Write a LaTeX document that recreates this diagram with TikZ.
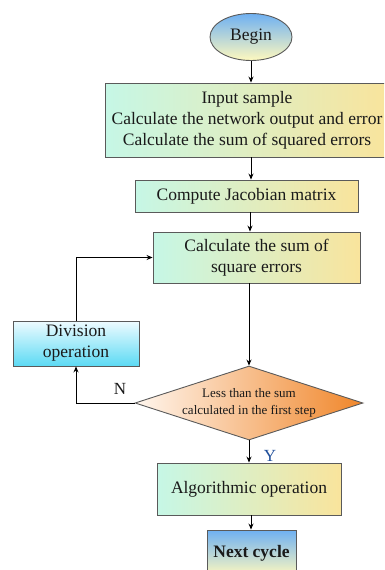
\documentclass[tikz,border=0pt]{standalone}
\usepackage{fontspec}
\setmainfont{Liberation Serif}
\usetikzlibrary{shapes.geometric,arrows.meta}
\definecolor{mintc}{HTML}{C6F7E6}
\definecolor{yelc}{HTML}{F9E49C}
\definecolor{bluec}{HTML}{6EB0F2}
\definecolor{paley}{HTML}{FFF9BE}
\definecolor{cyanc}{HTML}{5CDAF4}
\definecolor{cyanl}{HTML}{EEFBFF}
\definecolor{orc}{HTML}{F0862A}
\definecolor{orl}{HTML}{FFF6EE}
\definecolor{edgec}{HTML}{5A5A5A}
\definecolor{txtc}{HTML}{1A1A1A}
\definecolor{ylab}{HTML}{1F4E9A}
\tikzset{
  x=1pt, y=-1pt,
  base/.style={draw=edgec, line width=0.9pt, text=txtc, inner sep=0pt, align=center,
    font=\fontsize{17.5}{21}\selectfont},
  procbox/.style={base, rectangle, left color=mintc, right color=yelc},
  arr/.style={draw=black, line width=0.8pt, -{Stealth[length=6pt,width=5pt]}},
  lab/.style={font=\fontsize{17}{20}\selectfont, text=txtc},
}
\begin{document}
\begin{tikzpicture}
\useasboundingbox (0,0) rectangle (384,570);
\clip (0,0) rectangle (384,570);
\node[base, ellipse, top color=bluec, bottom color=paley, minimum width=82pt, minimum height=47pt] (begin) at (251,37) {Begin};
\node[procbox, minimum width=284pt, minimum height=74pt] (inp) at (247,120) {Input sample\\Calculate the network output and error\\Calculate the sum of squared errors};
\node[procbox, minimum width=223pt, minimum height=32pt] (jac) at (246.5,196) {Compute Jacobian matrix};
\node[procbox, minimum width=207pt, minimum height=51pt] (sse) at (256.5,257.5) {Calculate the sum of\\square errors};
\node[base, rectangle, top color=cyanl, bottom color=cyanc, minimum width=126pt, minimum height=45pt] (div) at (76,343.5) {Division\\operation};
\node[base, diamond, left color=orl, right color=orc, minimum width=228pt, minimum height=74pt, aspect=3,
  font=\fontsize{13}{17}\selectfont] (cmp) at (249,403) {Less than the sum\\calculated in the first step};
\node[procbox, minimum width=184pt, minimum height=52pt] (alg) at (249,489) {Algorithmic operation};
\node[base, rectangle, top color=bluec, bottom color=paley, minimum width=89pt, minimum height=46pt,
  font=\fontsize{17.5}{21}\selectfont\bfseries] (nxt) at (251.5,553) {Next cycle};
\coordinate (c1) at (251,0);
\coordinate (c2) at (250,0);
\coordinate (c3) at (249,0);
\draw[arr] (c1 |- begin.south) -- (c1 |- inp.north);
\draw[arr] (c1 |- inp.south) -- (c1 |- jac.north);
\draw[arr] (c2 |- jac.south) -- (c2 |- sse.north);
\draw[arr] (c3 |- sse.south) -- (cmp.north);
\draw[arr] (cmp.south) -- (c3 |- alg.north);
\draw[arr] (c1 |- alg.south) -- (c1 |- nxt.north);
\draw[arr] (cmp.west) -| (div.south);
\draw[arr] (div.north) |- (sse.west);
\node[lab] (nlab) at (120,389) {N};
\node[lab, text=ylab] (ylab) at (270,456) {Y};
\end{tikzpicture}
\end{document}
